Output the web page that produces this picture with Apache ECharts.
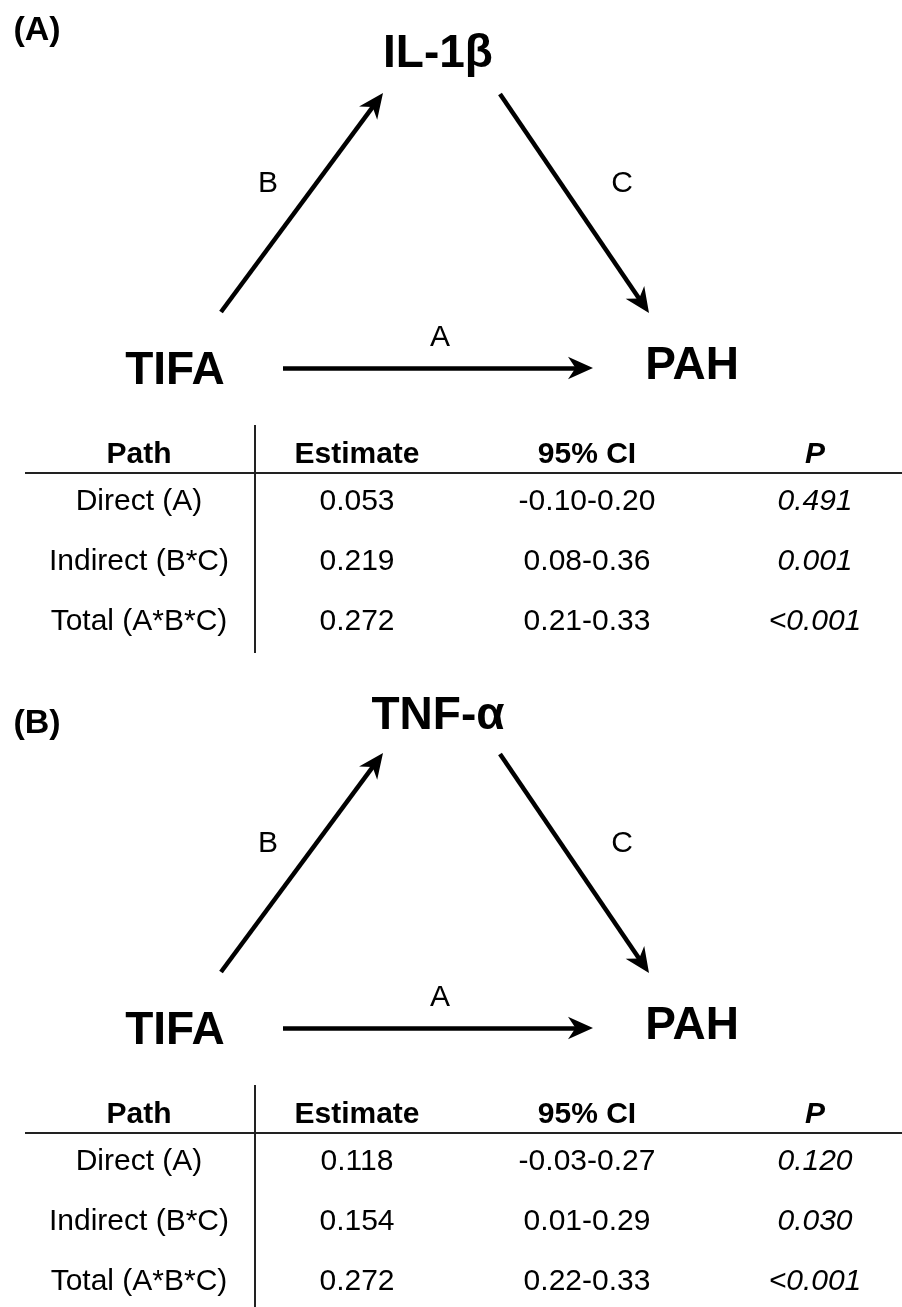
<!DOCTYPE html>
<html>
<head>
<meta charset="utf-8">
<script src="https://cdn.jsdelivr.net/npm/echarts@6/dist/echarts.min.js"></script>
<style>
  html, body { margin: 0; padding: 0; background: #fff; }
  #chart { width: 902px; height: 1307px; }
</style>
</head>
<body>
<div id="chart"></div>
<script>
// ---------- data ----------
const panelLabels = ['(A)', '(B)'];
const mediators = ['IL-1β', 'TNF-α'];
const exposureName = 'TIFA';
const outcomeName = 'PAH';
const pathLetters = ['A', 'B', 'C'];
const tableHeader = ['Path', 'Estimate', '95% CI', 'P'];
const pathNames = ['Direct (A)', 'Indirect (B*C)', 'Total (A*B*C)'];
const estimatesA = [0.053, 0.219, 0.272];
const ciA = ['-0.10-0.20', '0.08-0.36', '0.21-0.33'];
const pValuesA = ['0.491', '0.001', '<0.001'];
const estimatesB = [0.118, 0.154, 0.272];
const ciB = ['-0.03-0.27', '0.01-0.29', '0.22-0.33'];
const pValuesB = ['0.120', '0.030', '<0.001'];

// ---------- layout (diagram units on hidden axes) ----------
const W = 902, H = 1307;
const panelOffset = [0, 660];
const panelLabelPos = [[37, 31], [37, 724]];
const mediatorY = [54, 716];
const nodePos = { exposure: [175, 371], mediator: [438, 0], outcome: [692, 366] };
const arrowTips = {
  A: [[283, 368], [593, 368]],
  B: [[221, 312], [383, 93]],
  C: [[500, 94], [649, 313]]
};
const letterPos = { A: [440, 338], B: [268, 184], C: [622, 184] };
const colX = [139, 357, 587, 815];
const headerY = 455;
const rowY = [502, 562, 622];
const ruleY = 473;
const ruleX = [25, 902];
const vRuleX = 255;
const vRuleY = [425, 653];
const arrowSize = 25;
const FONT = "'Liberation Sans', Arial, Helvetica, sans-serif";

const arrowPath = 'path://M0,0 L0,0 M20,0 L20,0 M0,20 L0,20 M10,0 L19,20 L10,14 L1,20 Z';

function shorten(from, to, d) {
  const dx = to[0] - from[0], dy = to[1] - from[1];
  const len = Math.sqrt(dx * dx + dy * dy);
  return [to[0] - dx / len * d, to[1] - dy / len * d];
}

const textData = [];
const arrowData = [];
const ruleData = [];

function addText(x, y, text, opts) {
  textData.push({
    value: [x, y],
    label: Object.assign({
      show: true, position: 'inside', formatter: text,
      fontFamily: FONT, fontSize: 30, color: '#000', fontWeight: 'normal',
      textBorderWidth: 0, opacity: 1
    }, opts || {})
  });
}

const tables = [
  { est: estimatesA, ci: ciA, p: pValuesA },
  { est: estimatesB, ci: ciB, p: pValuesB }
];

for (let k = 0; k < 2; k++) {
  const oy = panelOffset[k];
  addText(panelLabelPos[k][0], panelLabelPos[k][1], panelLabels[k], { fontSize: 34, fontWeight: 'bold' });
  addText(nodePos.mediator[0], mediatorY[k], mediators[k], { fontSize: 46, fontWeight: 'bold' });
  addText(nodePos.exposure[0], nodePos.exposure[1] + oy, exposureName, { fontSize: 46, fontWeight: 'bold' });
  addText(nodePos.outcome[0], nodePos.outcome[1] + oy, outcomeName, { fontSize: 46, fontWeight: 'bold' });
  pathLetters.forEach(function (L) {
    addText(letterPos[L][0], letterPos[L][1] + oy, L, { fontSize: 30 });
    const from = [arrowTips[L][0][0], arrowTips[L][0][1] + oy];
    const tip = [arrowTips[L][1][0], arrowTips[L][1][1] + oy];
    arrowData.push({ coords: [from, shorten(from, tip, arrowSize / 2)] });
  });
  // table
  tableHeader.forEach(function (h, c) {
    addText(colX[c], headerY + oy, h, { fontWeight: 'bold', fontStyle: c === 3 ? 'italic' : 'normal' });
  });
  const t = tables[k];
  pathNames.forEach(function (name, r) {
    const y = rowY[r] + oy;
    addText(colX[0], y, name);
    addText(colX[1], y, t.est[r].toFixed(3));
    addText(colX[2], y, t.ci[r]);
    addText(colX[3], y, t.p[r], { fontStyle: 'italic' });
  });
  ruleData.push({ coords: [[ruleX[0], ruleY + oy], [ruleX[1], ruleY + oy]] });
  ruleData.push({ coords: [[vRuleX, vRuleY[0] + oy], [vRuleX, Math.min(vRuleY[1] + oy, H)]] });
}

const chart = echarts.init(document.getElementById('chart'), null, { renderer: 'canvas' });
chart.setOption({
  animation: false,
  backgroundColor: '#fff',
  textStyle: { color: '#000', fontFamily: FONT },
  grid: { left: 0, right: 0, top: 0, bottom: 0 },
  xAxis: { type: 'value', min: 0, max: W, show: false },
  yAxis: { type: 'value', min: 0, max: H, inverse: true, show: false },
  series: [
    {
      type: 'lines', coordinateSystem: 'cartesian2d', silent: true, clip: false,
      symbol: 'none',
      lineStyle: { color: '#222', width: 2, opacity: 1 },
      data: ruleData
    },
    {
      type: 'lines', coordinateSystem: 'cartesian2d', silent: true, clip: false,
      symbol: ['none', arrowPath], symbolSize: arrowSize,
      lineStyle: { color: '#000', width: 4.5, opacity: 1 },
      itemStyle: { color: '#000' },
      data: arrowData
    },
    {
      type: 'scatter', silent: true, symbolSize: 1, clip: false,
      itemStyle: { color: '#000', opacity: 0 },
      label: { show: true, position: 'inside', color: '#000', opacity: 1, textBorderWidth: 0 },
      emphasis: { disabled: true },
      data: textData
    }
  ]
});
</script>
</body>
</html>
